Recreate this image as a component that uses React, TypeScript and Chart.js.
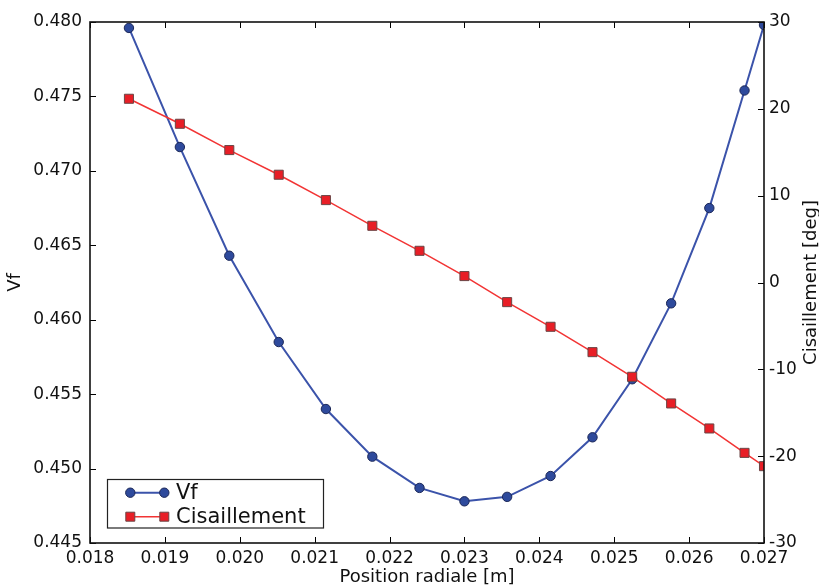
import React, { useEffect, useRef } from 'react';
import { Chart, registerables } from 'chart.js';

Chart.register(...registerables);

// ---- data ----
const radialPosition = [0.01852, 0.0192, 0.01986, 0.02052, 0.02115, 0.02177, 0.0224, 0.023, 0.02357, 0.02415, 0.02471, 0.02524, 0.02576, 0.02627, 0.02674, 0.027];
const vfValues = [0.4796, 0.4716, 0.4643, 0.4585, 0.454, 0.4508, 0.4487, 0.4478, 0.4481, 0.4495, 0.4521, 0.456, 0.4611, 0.4675, 0.4754, 0.4798];
const shearValues = [21.16, 18.28, 15.25, 12.41, 9.49, 6.53, 3.65, 0.74, -2.26, -5.1, -8.02, -10.86, -13.93, -16.81, -19.62, -21.15];

const seriesLabels = ['Vf', 'Cisaillement'];
const xAxisTitle = 'Position radiale [m]';
const yAxisTitle = 'Vf';
const y1AxisTitle = 'Cisaillement [deg]';

const xRange = [0.018, 0.027];
const xStep = 0.001;
const yRange = [0.445, 0.48];
const yStep = 0.005;
const y1Range = [-30, 30];
const y1Step = 10;

const FONT = '"DejaVu Sans", sans-serif';
const TEXT = '#111';
const BLUE_LINE = '#3b53aa';
const BLUE_FILL = '#2e4a9c';
const BLUE_EDGE = '#1b2757';
const RED_LINE = '#f23434';
const RED_FILL = '#e81e26';
const RED_EDGE = '#6b4545';

function drawCircle(ctx: CanvasRenderingContext2D, x: number, y: number, r: number) {
  ctx.beginPath();
  ctx.arc(x, y, r, 0, Math.PI * 2);
  ctx.fillStyle = BLUE_FILL;
  ctx.fill();
  ctx.lineWidth = 1;
  ctx.strokeStyle = BLUE_EDGE;
  ctx.stroke();
}

function drawSquare(ctx: CanvasRenderingContext2D, x: number, y: number, s: number) {
  ctx.beginPath();
  ctx.rect(x - s / 2, y - s / 2, s, s);
  ctx.fillStyle = RED_FILL;
  ctx.fill();
  ctx.lineWidth = 1;
  ctx.strokeStyle = RED_EDGE;
  ctx.stroke();
}

const mplPlugin = {
  id: 'mplDecorations',
  afterDraw(chart: any) {
    const { ctx, chartArea: a, scales } = chart;
    ctx.save();
    const tl = 6;
    ctx.strokeStyle = '#000';
    ctx.lineWidth = 1;
    const seg = (x1: number, y1: number, x2: number, y2: number) => {
      ctx.beginPath();
      ctx.moveTo(x1, y1);
      ctx.lineTo(x2, y2);
      ctx.stroke();
    };
    scales.x.ticks.forEach((t: any) => {
      const px = Math.round(scales.x.getPixelForValue(t.value)) + 0.5;
      seg(px, a.bottom, px, a.bottom - tl);
      seg(px, a.top, px, a.top + tl);
    });
    scales.y.ticks.forEach((t: any) => {
      const py = Math.round(scales.y.getPixelForValue(t.value)) + 0.5;
      seg(a.left, py, a.left + tl, py);
    });
    scales.y1.ticks.forEach((t: any) => {
      const py = Math.round(scales.y1.getPixelForValue(t.value)) + 0.5;
      seg(a.right, py, a.right - tl, py);
    });

    // frame
    ctx.lineWidth = 1.6;
    ctx.strokeStyle = '#111';
    ctx.strokeRect(a.left, a.top, a.right - a.left, a.bottom - a.top);

    // axis titles
    ctx.fillStyle = TEXT;
    ctx.font = `18px ${FONT}`;
    ctx.textAlign = 'center';
    ctx.textBaseline = 'middle';
    ctx.fillText(xAxisTitle, (a.left + a.right) / 2, a.bottom + 34);
    ctx.save();
    ctx.translate(15, (a.top + a.bottom) / 2);
    ctx.rotate(-Math.PI / 2);
    ctx.fillText(yAxisTitle, 0, 0);
    ctx.restore();
    ctx.save();
    ctx.translate(a.right + 47, (a.top + a.bottom) / 2);
    ctx.rotate(-Math.PI / 2);
    ctx.fillText(y1AxisTitle, 0, 0);
    ctx.restore();

    // legend (matplotlib style)
    const lx = a.left + 17;
    const ly = a.bottom - 64;
    const lw = 216;
    const lh = 48.5;
    ctx.fillStyle = '#fff';
    ctx.fillRect(lx, ly, lw, lh);
    ctx.lineWidth = 1.2;
    ctx.strokeStyle = '#222';
    ctx.strokeRect(lx + 0.5, ly + 0.5, lw, lh);

    const rows = [ly + 13.7, ly + 37.7];
    const x1 = lx + 23.3;
    const x2 = lx + 57.3;
    // Vf
    ctx.strokeStyle = BLUE_LINE;
    ctx.lineWidth = 2;
    seg(x1, rows[0], x2, rows[0]);
    drawCircle(ctx, x1, rows[0], 4.7);
    drawCircle(ctx, x2, rows[0], 4.7);
    // Cisaillement
    ctx.strokeStyle = RED_LINE;
    ctx.lineWidth = 1.5;
    seg(x1, rows[1], x2, rows[1]);
    drawSquare(ctx, x1, rows[1], 9);
    drawSquare(ctx, x2, rows[1], 9);

    ctx.fillStyle = TEXT;
    ctx.font = `21px ${FONT}`;
    ctx.textAlign = 'left';
    ctx.textBaseline = 'middle';
    ctx.fillText(seriesLabels[0], lx + 69, rows[0] + 1);
    ctx.fillText(seriesLabels[1], lx + 69, rows[1] + 1);

    ctx.restore();
  },
};

export default function App() {
  const canvasRef = useRef<HTMLCanvasElement | null>(null);

  useEffect(() => {
    document.body.style.margin = '0';
    const canvas = canvasRef.current;
    if (!canvas) return;
    const tickFont = { family: FONT, size: 17 };
    const chart = new Chart(canvas, {
      type: 'line',
      data: {
        datasets: [
          {
            label: seriesLabels[0],
            data: radialPosition.map((x, i) => ({ x, y: vfValues[i] })),
            yAxisID: 'y',
            borderColor: BLUE_LINE,
            borderWidth: 2,
            backgroundColor: BLUE_FILL,
            pointBackgroundColor: BLUE_FILL,
            pointBorderColor: BLUE_EDGE,
            pointBorderWidth: 1,
            pointRadius: 4.7,
            pointStyle: 'circle',
            tension: 0,
            order: 1,
          },
          {
            label: seriesLabels[1],
            data: radialPosition.map((x, i) => ({ x, y: shearValues[i] })),
            yAxisID: 'y1',
            borderColor: RED_LINE,
            borderWidth: 1.5,
            backgroundColor: RED_FILL,
            pointBackgroundColor: RED_FILL,
            pointBorderColor: RED_EDGE,
            pointBorderWidth: 1,
            pointRadius: 6.4,
            pointStyle: 'rect',
            tension: 0,
            order: 0,
          },
        ],
      },
      options: {
        responsive: false,
        animation: false,
        devicePixelRatio: 1,
        layout: { padding: { top: 22, left: 0, right: 0, bottom: 0 } },
        plugins: {
          legend: { display: false },
          tooltip: { enabled: false },
        },
        scales: {
          x: {
            type: 'linear',
            position: 'bottom',
            min: xRange[0],
            max: xRange[1],
            grid: { display: false, drawTicks: false },
            border: { display: false },
            ticks: {
              stepSize: xStep,
              autoSkip: false,
              maxRotation: 0,
              padding: 5,
              color: TEXT,
              font: tickFont,
              callback: (v: any) => Number(v).toFixed(3),
            },
            afterFit: (s: any) => {
              s.height = 42;
            },
          },
          y: {
            type: 'linear',
            position: 'left',
            min: yRange[0],
            max: yRange[1],
            grid: { display: false, drawTicks: false },
            border: { display: false },
            ticks: {
              stepSize: yStep,
              padding: 8,
              color: TEXT,
              font: tickFont,
              callback: (v: any) => Number(v).toFixed(3),
            },
            afterFit: (s: any) => {
              s.width = 90;
            },
          },
          y1: {
            type: 'linear',
            position: 'right',
            min: y1Range[0],
            max: y1Range[1],
            grid: { display: false, drawTicks: false },
            border: { display: false },
            ticks: {
              stepSize: y1Step,
              padding: 5,
              color: TEXT,
              font: tickFont,
              callback: (v: any) => String(Math.round(Number(v))),
            },
            afterFit: (s: any) => {
              s.width = 55;
            },
          },
        },
      },
      plugins: [mplPlugin],
    });
    return () => chart.destroy();
  }, []);

  return (
    <div style={{ position: 'absolute', left: 0, top: 0, width: 819, height: 585, background: '#fff' }}>
      <canvas ref={canvasRef} width={819} height={585} style={{ display: 'block' }} />
    </div>
  );
}
